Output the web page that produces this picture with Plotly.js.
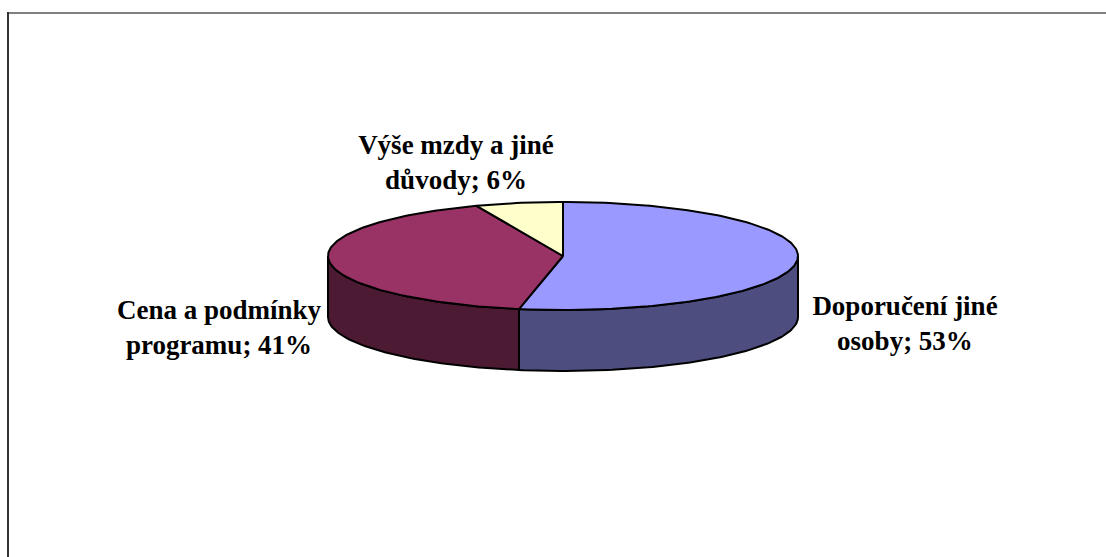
<!DOCTYPE html>
<html><head><meta charset="utf-8">
<script src="https://cdn.plot.ly/plotly-3.0.1.min.js"></script>
<style>html,body{margin:0;padding:0;background:#fff}#c{width:1106px;height:557px}</style>
</head><body><div id="c"></div>
<script>
const categories = ["Doporučení jiné<br>osoby", "Cena a podmínky<br>programu", "Výše mzdy a jiné<br>důvody"];
const shares = [53, 41, 6];
const topColors = ["#9999FF", "#993366", "#FFFFCC"];
const sideColors = ["#4D4D80", "#4D1A33", "#80806A"];

const W = 1106, H = 557, cx = 563, cy = 256, rx = 235, ry = 54, depth = 61;
const labelPx = [[905, 325.5], [219, 329.5], [456, 165]];
const line = {color: "#000", width: 2};

// angle 0 at the top, clockwise, in a unit circle; the axes squash it
const pt = a => [Math.sin(a), Math.cos(a)];
function arc(a0, a1, dz) {
  const n = Math.max(2, Math.ceil(Math.abs(a1 - a0) / 0.02));
  const xs = [], ys = [];
  for (let i = 0; i <= n; i++) {
    const p = pt(a0 + (a1 - a0) * i / n);
    xs.push(p[0]); ys.push(p[1] - dz);
  }
  return [xs, ys];
}
const total = shares.reduce((a, b) => a + b, 0);
let acc = 0;
const walls = [], tops = [];
const D = depth / ry;
shares.forEach((v, i) => {
  const a0 = acc / total * 2 * Math.PI;
  acc += v;
  const a1 = acc / total * 2 * Math.PI;
  const [tx, ty] = arc(a0, a1, 0);
  tops.push({type: "scatter", mode: "lines", x: [0, ...tx, 0], y: [0, ...ty, 0],
    fill: "toself", fillcolor: topColors[i], line, hoverinfo: "skip", showlegend: false});
  const s0 = Math.max(a0, Math.PI / 2), s1 = Math.min(a1, 3 * Math.PI / 2);
  if (s1 > s0) {
    const [ux, uy] = arc(s0, s1, 0);
    const [lx, ly] = arc(s1, s0, D);
    walls.push({type: "scatter", mode: "lines", x: [...ux, ...lx, ux[0]], y: [...uy, ...ly, uy[0]],
      fill: "toself", fillcolor: sideColors[i], line, hoverinfo: "skip", showlegend: false});
  }
});
const labels = {type: "scatter", mode: "text",
  x: labelPx.map(p => (p[0] - cx) / rx),
  y: labelPx.map(p => (cy - p[1]) / ry),
  text: categories.map((c, i) => c + "; " + shares[i] + "%"),
  textposition: "middle center", cliponaxis: false,
  textfont: {family: "Liberation Serif", size: 27, color: "#000", weight: 700},
  hoverinfo: "skip", showlegend: false};

Plotly.newPlot("c", [...walls, ...tops, labels], {
  width: W, height: H, margin: {l: 0, r: 0, t: 0, b: 0},
  paper_bgcolor: "#fff", plot_bgcolor: "#fff", showlegend: false,
  xaxis: {range: [-cx / rx, (W - cx) / rx], visible: false, fixedrange: true},
  yaxis: {range: [(cy - H) / ry, cy / ry], visible: false, fixedrange: true},
  shapes: [
    {type: "line", xref: "paper", yref: "paper", x0: 7 / W, x1: 1, y0: 1 - 13 / H, y1: 1 - 13 / H, line: {color: "#808080", width: 2}},
    {type: "line", xref: "paper", yref: "paper", x0: 8 / W, x1: 8 / W, y0: 0, y1: 1 - 12 / H, line: {color: "#333", width: 2}}
  ]
}, {displayModeBar: false, staticPlot: true});
</script></body></html>
